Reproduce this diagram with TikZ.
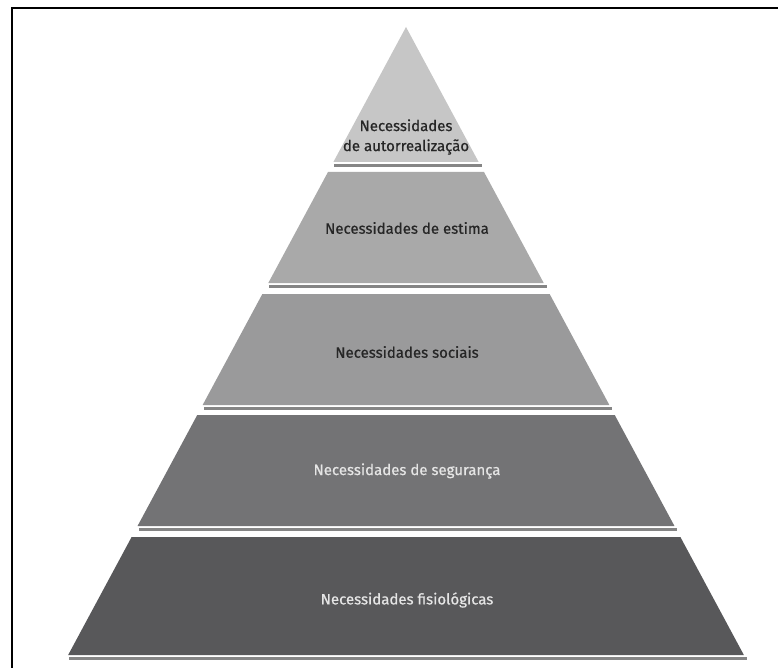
\documentclass[tikz,border=0pt]{standalone}
\usepackage{fontspec}
\setmainfont{Fira Sans}
\newfontfamily\levelfont{Fira Sans}[FakeBold=0.6]
\usepackage{tikz}

\definecolor{lay1}{HTML}{C6C6C6}
\definecolor{lay2}{HTML}{A9A9A9}
\definecolor{lay3}{HTML}{9A9A9B}
\definecolor{lay4}{HTML}{737375}
\definecolor{lay5}{HTML}{58585A}
\definecolor{plate}{HTML}{858585}

\begin{document}
\begin{tikzpicture}[x=1pt,y=-1pt,
                    level text/.style={font=\levelfont\fontsize{15}{20}\selectfont,align=center,inner sep=0pt},
                    dark text/.style={level text,text=black!85},
                    light text/.style={level text,text=white!90!black}]
  \useasboundingbox (0,0) rectangle (778,668);

  % frame
  \draw[line width=2pt] (11.5,668) -- (11.5,8.5) -- (778,8.5);

  % pyramid levels: top / bottom / colour
  \foreach \t/\b/\c in {27/162/lay1, 172/283/lay2, 294/405/lay3, 415/526/lay4, 537/655/lay5} {
    \fill[\c] ({406-0.538*(\t-27)},\t) -- ({406+0.538*(\t-27)},\t)
      -- ({406+0.538*(\b-27)},\b) -- ({406-0.538*(\b-27)},\b) -- cycle;
    \fill[plate] ({406-0.538*(\b-27)+1},\b+2) rectangle ({406+0.538*(\b-27)+3},\b+5);
  }

  \node[dark text] (auto) at (406,137) {Necessidades\\de autorrealização};
  \node[dark text] (estima) at (407,228) {Necessidades de estima};
  \node[dark text] (sociais) at (407,352) {Necessidades sociais};
  \node[light text] (seguranca) at (407,471) {Necessidades de segurança};
  \node[light text] (fisio) at (407,600) {Necessidades fisiológicas};
\end{tikzpicture}
\end{document}
